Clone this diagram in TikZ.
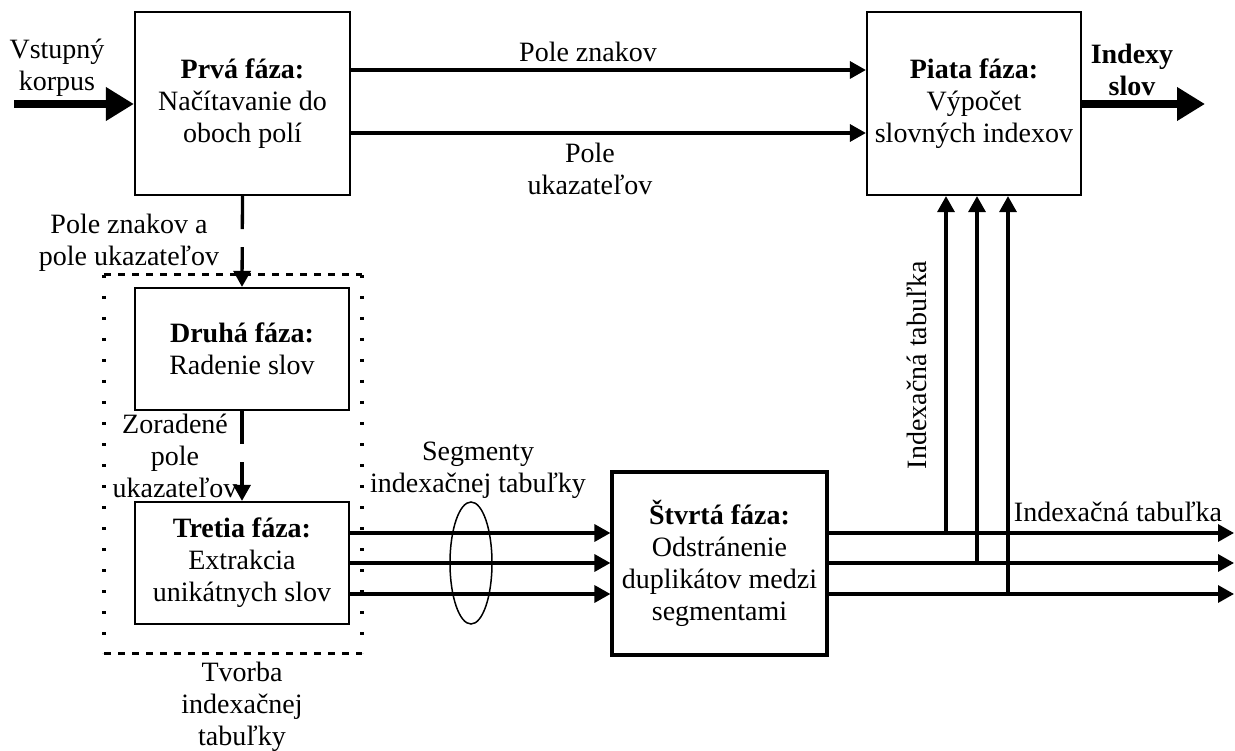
\documentclass[tikz,border=0pt]{standalone}
\usepackage{fontspec}
\setmainfont{Liberation Serif}
\usetikzlibrary{arrows.meta,shapes.geometric}
\begin{document}
\begin{tikzpicture}[x=1pt,y=-1pt,
  phase/.style={draw, line width=2.2pt, rectangle, inner sep=0pt, align=center,
                font=\fontsize{28}{32}\selectfont},
  lbl/.style={align=center, inner sep=0pt, font=\fontsize{28}{32}\selectfont},
  arr/.style={line width=3.3pt, -{Triangle[length=16pt,width=17pt]}},
  bigarr/.style={line width=8pt, -{Triangle[length=28pt,width=32pt]}},
  gapline/.style={arr, dash pattern=on 33pt off 18pt on 300pt off 0pt},
]
\useasboundingbox (0,0) rectangle (1235,751);

% phase boxes
\node[phase, minimum width=215pt, minimum height=183pt] (p1) at (242.5,103.5)
  {\textbf{Prvá fáza:}\\Načítavanie do\\oboch polí};
\node[phase, minimum width=214pt, minimum height=122pt] (p2) at (242,349)
  {\textbf{Druhá fáza:}\\Radenie slov};
\node[phase, minimum width=214pt, minimum height=122pt] (p3) at (242,563)
  {\textbf{Tretia fáza:}\\Extrakcia\\unikátnych slov};
\node[phase, line width=3.2pt, minimum width=215pt, minimum height=183pt] (p4) at (719.5,563.5)
  {\textbf{Štvrtá fáza:}\\Odstránenie\\duplikátov medzi\\segmentami};
\node[phase, minimum width=214pt, minimum height=183pt] (p5) at (974,103.5)
  {\textbf{Piata fáza:}\\Výpočet\\slovných indexov};

% grouping frame around phases two and three
\draw[line width=3pt, dash pattern=on 7pt off 7pt]
  (104,275) -- (362,275) (104,653) -- (362,653);
\draw[line width=3.5pt, dash pattern=on 3pt off 18pt]
  (104,275) -- (104,653) (362,275) -- (362,653);

% ring bundling the segment arrows
\node[draw, ellipse, line width=1.5pt, minimum width=42pt, minimum height=122pt,
      inner sep=0pt] (ring) at (471,563) {};

% helper coordinates
\coordinate (src) at (14,104);
\coordinate (dst) at (1205,104);
\coordinate (yA) at (0,70);
\coordinate (yB) at (0,133);
\coordinate (s1) at (0,533);
\coordinate (s2) at (0,563);
\coordinate (s3) at (0,594);
\coordinate (e1) at (1234,533);
\coordinate (e2) at (1234,563);
\coordinate (e3) at (1234,594);
\coordinate (v1) at (946,0);
\coordinate (v2) at (977,0);
\coordinate (v3) at (1008,0);

% connectors
\draw[bigarr] (src) -- (src -| p1.west);
\draw[arr] (p1.east |- yA) -- (p5.west |- yA);
\draw[arr] (p1.east |- yB) -- (p5.west |- yB);
\draw[bigarr] (p5.east |- dst) -- (dst);
\draw[gapline] (p1.south) -- (p2.north);
\draw[gapline] (p2.south) -- (p3.north);
\foreach \s in {s1,s2,s3}
  \draw[arr] (p3.east |- \s) -- (p4.west |- \s);
\foreach \s/\e in {s1/e1,s2/e2,s3/e3}
  \draw[arr] (p4.east |- \s) -- (\e);
\foreach \v/\s in {v1/s1,v2/s2,v3/s3}
  \draw[arr] (\v |- \s) -- (\v |- p5.south);

% labels
\node[lbl] (lin) at (57,68) {Vstupný\\korpus};
\node[lbl] (lzn) at (588,52) {Pole znakov};
\node[lbl] (luk) at (590,169) {Pole\\ukazateľov};
\node[lbl, font=\fontsize{28}{32}\selectfont\bfseries] (lout) at (1132,70) {Indexy\\slov};
\node[lbl] (lboth) at (129,243) {Pole znakov a\\pole ukazateľov};
\node[lbl] (lsort) at (175,456) {Zoradené\\pole\\ukazateľov};
\node[lbl] (lseg) at (478,470) {Segmenty\\indexačnej tabuľky};
\node[lbl] (lgrp) at (242,707) {Tvorba\\indexačnej\\tabuľky};
\node[lbl] (ltab) at (1118,512) {Indexačná tabuľka};
\node[lbl, rotate=90] (lvert) at (917,365) {Indexačná tabuľka};
\end{tikzpicture}
\end{document}
